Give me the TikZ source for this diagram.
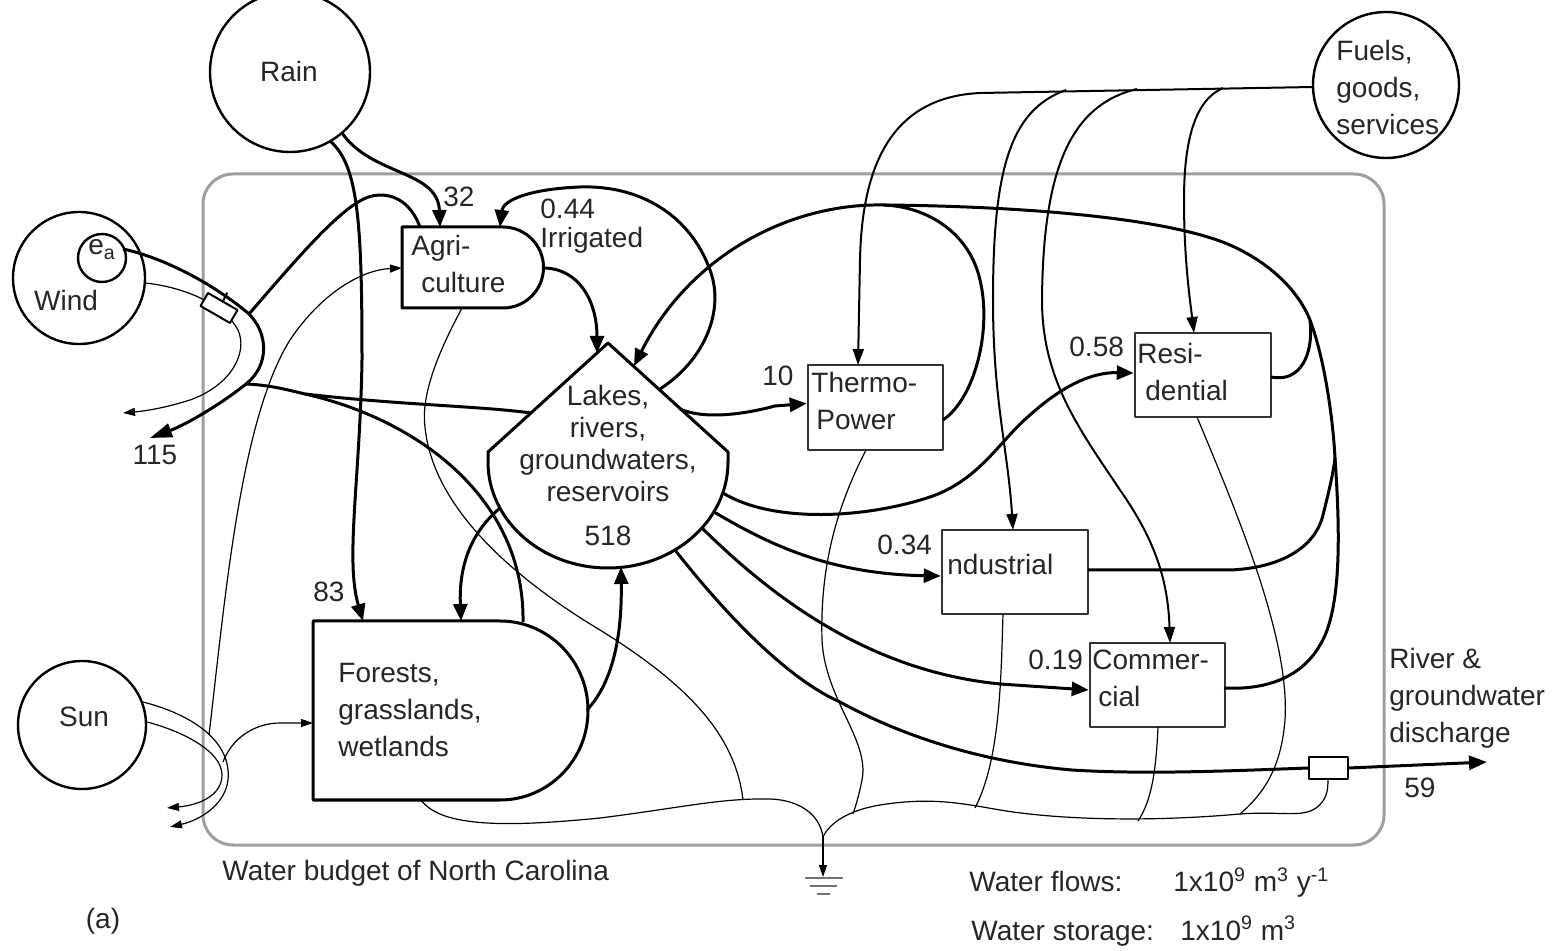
\documentclass[tikz,border=0pt]{standalone}
\usepackage{fontspec}
\setmainfont{Liberation Sans}
\usetikzlibrary{arrows.meta}
\begin{document}
\begin{tikzpicture}[x=0.5pt,y=-0.5pt,line join=round,
  flow/.style={line width=1.5pt},
  aflow/.style={line width=1.5pt,-{Triangle[length=8.5pt,width=7pt]}},
  fuel/.style={line width=1pt,-{Triangle[length=8pt,width=5.5pt]}},
  heat/.style={line width=0.6pt},
  aheat/.style={line width=0.6pt,-{Triangle[length=6pt,width=4pt]}},
  srcc/.style={circle,draw,line width=1.2pt,inner sep=0pt,fill=white},
  procbox/.style={rectangle,draw=black!80,line width=1.3pt,inner sep=0pt,fill=white},
  odum/.style={draw,line width=1.5pt,fill=white},
  lbl/.style={inner sep=0pt,text=black!85,font=\fontsize{14pt}{18.5pt}\selectfont},
  bound/.style={draw=black!38,line width=1.5pt,rounded corners=15pt},
  gatebox/.style={draw,line width=1pt,fill=white,inner sep=0pt},
]
\useasboundingbox (0,0) rectangle (1559,951);

% system boundary
\draw[bound] (203,174) rectangle (1384,845);

% sources
\node[srcc,minimum size=80pt] (rain) at (290,72) {};
\node[srcc,minimum size=66pt] (wind) at (79,278) {};
\node[srcc,minimum size=24pt] (ea) at (102,258) {};
\node[srcc,minimum size=64pt] (sun) at (82,725) {};
\node[srcc,minimum size=73pt] (fuels) at (1386,85) {};

% producers and storage
\draw[odum] (402,227) -- (503,227) arc[start angle=90,end angle=-90,radius=20.25pt] -- (402,308) -- cycle;
\draw[odum] (313,621) -- (500,621) arc[start angle=90,end angle=-90,x radius=44pt,y radius=44.75pt] -- (313,800) -- cycle;
\draw[odum] (608,343) -- (728,452) -- (728,462) arc[start angle=0,end angle=-180,x radius=60pt,y radius=53pt] -- (488,452) -- cycle;

% consumer boxes
\node[procbox,minimum width=67.5pt,minimum height=42.5pt] (thermo) at (875.5,407.5) {};
\node[procbox,minimum width=68pt,minimum height=42pt] (resi) at (1203,375) {};
\node[procbox,minimum width=73pt,minimum height=42pt] (indus) at (1015,572) {};
\node[procbox,minimum width=67.5pt,minimum height=42pt] (comm) at (1157.5,685) {};

% attachment points
\coordinate (j) at (884,205);
\coordinate (agriTopA) at (440,227);
\coordinate (agriTopB) at (500,227);
\coordinate (agriTopL) at (420,227);
\coordinate (agriR) at (543,268);
\coordinate (agriBot) at (462,308);
\coordinate (agriL) at (402,268);
\coordinate (lakesApL) at (597,353);
\coordinate (lakesApR) at (634,366);
\coordinate (lakesIrr) at (660,389);
\coordinate (lakesTh) at (680,409);
\coordinate (lakesRes) at (723,493);
\coordinate (lakesInd) at (714,512);
\coordinate (lakesCom) at (702,528);
\coordinate (lakesDis) at (675,550);
\coordinate (lakesL) at (531,413);
\coordinate (lakesLF) at (500,508);
\coordinate (lakesBot) at (621,567);
\coordinate (forTopR) at (523,622);
\coordinate (forTopA) at (363,621);
\coordinate (forTopB) at (461,621);
\coordinate (forR) at (587,710);
\coordinate (forL) at (313,723);
\coordinate (forBot) at (421,800);
\coordinate (sink) at (823,837);
\coordinate (windA) at (249,314);
\coordinate (windB) at (246,384);
\coordinate (windC) at (305,394);
\coordinate (thIn) at (858,365);
\coordinate (inIn) at (1013,530);
\coordinate (coIn) at (1170,643);
\coordinate (reIn) at (1194,333);
\coordinate (disOut) at (1487,762);
\coordinate (ex115) at (150,438);

% ---------- heat sink (thin) lines ----------
\draw[heat] (forBot) .. controls (440,826) and (500,828) .. (600,818) .. controls (680,808) and (720,798) .. (770,799) .. controls (800,800) and (820,815) .. (sink);
\draw[heat] (agriBot) .. controls (445,340) and (420,390) .. (425,427) .. controls (432,500) and (500,570) .. (600,630) .. controls (680,680) and (735,730) .. (743,800);
\draw[heat] (866,450) .. controls (835,510) and (820,570) .. (822,640) .. controls (825,700) and (870,740) .. (862,780) .. controls (859,795) and (856,805) .. (853,814);
\draw[heat] (sink) .. controls (830,822) and (850,810) .. (880,805) .. controls (930,797) and (960,803) .. (1000,810) .. controls (1060,820) and (1150,822) .. (1240,814) .. controls (1280,811) and (1302,818) .. (1316,808) .. controls (1327,800) and (1328,790) .. (1328,779);
\draw[heat] (1003,614) .. controls (1001,680) and (1000,760) .. (975,808);
\draw[heat] (1158,727) .. controls (1156,770) and (1152,800) .. (1138,821);
\draw[heat] (1197,417) .. controls (1240,520) and (1290,640) .. (1285,720) .. controls (1281,770) and (1262,795) .. (1240,814);
\draw[aheat] (sink) -- (823,877);
\draw[heat,draw=black!55,line width=1pt] (805,878) -- (843,878) (810,886) -- (837,886) (817,894) -- (830,894);

% ---------- sun lines ----------
\draw[aheat] (143,702) .. controls (190,714) and (232,740) .. (228,780) .. controls (225,805) and (200,820) .. (170,827);
\draw[aheat] (147,722) .. controls (185,732) and (222,752) .. (222,775) .. controls (222,795) and (200,805) .. (167,808);
\draw[aheat] (209,735) .. controls (225,600) and (240,420) .. (290,340) .. controls (320,295) and (360,270) .. (agriL);
\draw[aheat] (223,762) .. controls (232,738) and (255,723) .. (280,723) -- (forL);

% ---------- wind ----------
\draw[aheat] (145,283) .. controls (185,287) and (225,305) .. (238,330) .. controls (248,352) and (232,385) .. (190,400) .. controls (165,408) and (145,411) .. (123,413);
\draw[line width=1.5pt,-{Triangle[length=11pt,width=7pt]}] (123,249) .. controls (165,258) and (215,285) .. (windA) .. controls (268,333) and (270,365) .. (windB) .. controls (220,405) and (185,425) .. (ex115);
\node[gatebox,minimum width=17pt,minimum height=7.5pt,rotate=-30] (gate) at (219,308) {};
\draw[line width=1pt] (gate.north) -- ++(4,-8);
\draw[flow] (agriTopL) .. controls (410,200) and (390,192) .. (372,196) .. controls (345,202) and (300,255) .. (windA);
\draw[flow] (windB) .. controls (270,385) and (288,390) .. (windC) .. controls (400,405) and (480,406) .. (lakesL);
\draw[flow] (windC) .. controls (420,420) and (525,500) .. (forTopR);

% ---------- rain ----------
\draw[aflow] (342,133) .. controls (372,176) and (438,170) .. (agriTopA);
\draw[aflow] (330,141) .. controls (358,165) and (362,220) .. (362,360) .. controls (360,480) and (345,560) .. (forTopA);

% ---------- water flows ----------
\draw[aflow] (lakesIrr) .. controls (705,360) and (725,310) .. (710,270) .. controls (690,215) and (640,185) .. (580,187) .. controls (530,189) and (503,200) .. (agriTopB);
\draw[aflow] (agriR) .. controls (578,268) and (597,300) .. (lakesApL);
\draw[aflow] (j) .. controls (790,203) and (690,255) .. (lakesApR);
\draw[flow] (943,420) .. controls (975,398) and (992,330) .. (980,280) .. controls (970,235) and (930,207) .. (j);
\draw[flow] (j) .. controls (1000,206) and (1160,215) .. (1230,245) .. controls (1275,265) and (1300,295) .. (1310,320) .. controls (1325,360) and (1333,420) .. (1335,458) .. controls (1340,530) and (1342,610) .. (1320,645) .. controls (1300,680) and (1262,690) .. (1224,688);
\draw[flow] (1271,377) .. controls (1300,383) and (1314,355) .. (1310,320);
\draw[flow] (1088,570) -- (1230,570) .. controls (1280,568) and (1315,548) .. (1323,515) .. controls (1328,495) and (1333,475) .. (1335,458);
\draw[aflow] (lakesTh) .. controls (705,420) and (745,414) .. (775,406) -- ([yshift=2pt]thermo.west);
\draw[aflow] (lakesRes) .. controls (770,522) and (860,520) .. (930,497) .. controls (980,480) and (1000,440) .. (1030,415) .. controls (1060,388) and (1090,372) .. ([yshift=1pt]resi.west);
\draw[aflow] (lakesInd) .. controls (770,545) and (830,574) .. ([yshift=-2pt]indus.west);
\draw[aflow] (lakesCom) .. controls (785,610) and (880,672) .. (1000,684) -- ([yshift=-2.5pt]comm.west);
\draw[flow] (lakesDis) .. controls (730,620) and (790,680) .. (840,702) .. controls (900,735) and (980,762) .. (1072,770) .. controls (1150,775) and (1250,770) .. (1309,768);
\node[gatebox,minimum width=19.5pt,minimum height=11pt] (gate2) at (1328,768) {};
\draw[line width=1.5pt,-{Triangle[length=9pt,width=7pt]}] (gate2.east) -- (disOut);
\draw[aflow] (lakesLF) .. controls (468,535) and (459,570) .. (forTopB);
\draw[aflow] (forR) .. controls (615,680) and (622,630) .. (lakesBot);

% ---------- fuels, goods, services ----------
\draw[fuel] (1313,87) -- (980,93) .. controls (895,97) and (862,160) .. (860,260) -- (thIn);
\draw[fuel] (1066,90) .. controls (1010,110) and (993,170) .. (993,300) .. controls (993,400) and (1008,450) .. (inIn);
\draw[fuel] (1137,89) .. controls (1070,105) and (1043,170) .. (1042,300) .. controls (1042,380) and (1080,430) .. (1120,490) .. controls (1155,540) and (1168,580) .. (coIn);
\draw[fuel] (1223,88) .. controls (1195,100) and (1184,140) .. (1184,200) .. controls (1184,260) and (1190,300) .. (reIn);

% ---------- texts ----------
\node[lbl] (tRain) at (289,71) {Rain};
\node[lbl] (tWind) at (66,300) {Wind};
\node[lbl,anchor=base west] (tEa) at (88,255) {e\textsubscript{a}};
\node[lbl] (tSun) at (84,717) {Sun};
\node[lbl,anchor=north west,align=left] (tFuels) at (1336,40) {Fuels,\\goods,\\services};
\node[lbl,anchor=north west,align=left] (tAgri) at (411,235) {Agri-\\\hspace*{5pt}culture};
\node[lbl,anchor=north,align=center,font=\fontsize{14pt}{16pt}\selectfont] (tLakes) at (608,385) {Lakes,\\rivers,\\groundwaters,\\reservoirs};
\node[lbl] (t518) at (608,536) {518};
\node[lbl,anchor=north west,align=left] (tThermo) at (811,372) {Thermo-\\\hspace*{2.5pt}Power};
\node[lbl,anchor=north west,align=left] (tResi) at (1137,343) {Resi-\\\hspace*{4pt}dential};
\node[lbl,anchor=base west] (tInd) at (947,575) {ndustrial};
\node[lbl,anchor=north west,align=left] (tComm) at (1092,650) {Commer-\\\hspace*{3pt}cial};
\node[lbl,anchor=north west,align=left] (tFor) at (338,663) {Forests,\\grasslands,\\wetlands};
\node[lbl,anchor=north west,align=left] (tRiver) at (1389,648) {River \&\\groundwater\\discharge};
\node[lbl] (t32) at (459,197) {32};
\node[lbl,anchor=base west] (t044) at (540,219) {0.44};
\node[lbl,anchor=base west] (tIrr) at (540,248) {Irrigated};
\node[lbl,anchor=base west] (t10) at (762,386) {10};
\node[lbl,anchor=base west] (t058) at (1069,357) {0.58};
\node[lbl,anchor=base west] (t034) at (877,555) {0.34};
\node[lbl,anchor=base west] (t019) at (1028,670) {0.19};
\node[lbl,anchor=base west] (t83) at (313,602) {83};
\node[lbl] (t115) at (155,455) {115};
\node[lbl,anchor=base west] (t59) at (1404,798) {59};
\node[lbl,anchor=base west] (tBudget) at (222,880) {Water budget of North Carolina};
\node[lbl] (tA) at (103,921) {(a)};
\node[lbl,anchor=base west] (tFlows) at (969,892) {Water flows:};
\node[lbl,anchor=base west] (tFlowsU) at (1173,892) {1x10\textsuperscript{9} m\textsuperscript{3} y\textsuperscript{-1}};
\node[lbl,anchor=base west] (tStor) at (971,940) {Water storage:};
\node[lbl,anchor=base west] (tStorU) at (1180,940) {1x10\textsuperscript{9} m\textsuperscript{3}};
\end{tikzpicture}
\end{document}
